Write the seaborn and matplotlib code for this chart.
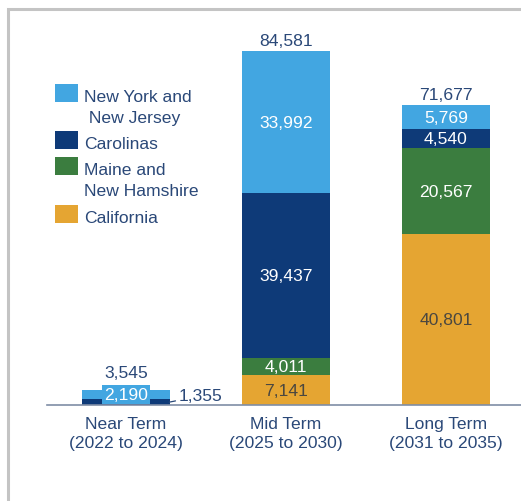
import matplotlib
matplotlib.use("Agg")
import matplotlib.pyplot as plt
from matplotlib.patches import Rectangle
import numpy as np
import pandas as pd
import seaborn as sns

# Cumulative capacity by term and region
terms = ["Near Term\n(2022 to 2024)", "Mid Term\n(2025 to 2030)", "Long Term\n(2031 to 2035)"]
california = [0, 7141, 40801]
maine_nh = [0, 4011, 20567]
carolinas = [1355, 39437, 4540]
ny_nj = [2190, 33992, 5769]

colors = {"California": "#E5A532", "Maine": "#3B7D3F", "Carolinas": "#0E3A78", "NY": "#42A6E1"}

TEXT = "#2A4878"
FONT = "Liberation Sans"
FS = 12.6

sns.set_theme(style="white")
plt.rcParams["font.family"] = [FONT, "DejaVu Sans"]

W, H = 521, 502
fig = plt.figure(figsize=(W / 100, H / 100), dpi=100)
fig.patch.set_facecolor("white")

def fx(px):
    return px / W

def fy(py):
    return 1 - py / H

ax_left, ax_bottom_px, ax_top_px = 47, 406, 21
ax = fig.add_axes([fx(ax_left), fy(ax_bottom_px), 1 - fx(ax_left), (ax_bottom_px - ax_top_px) / H])

df = pd.DataFrame({
    "term": terms,
    "California": california,
    "Maine": maine_nh,
    "Carolinas": carolinas,
    "NY": ny_nj,
})
stack = ["California", "Maine", "Carolinas", "NY"]
cum = df[stack].cumsum(axis=1)
df["total"] = cum["NY"]

# Stacked bars: draw cumulative heights from the top segment down
for key in reversed(stack):
    sns.barplot(x=df["term"], y=cum[key], color=colors[key], saturation=1,
                width=0.55, errorbar=None, linewidth=0, ax=ax)

ax.set_xlim(-0.494, 2.47)
ax.set_ylim(0, 92000)
ax.set_xlabel("")
ax.set_ylabel("")
ax.set_yticks([])
for s in ["top", "right", "left"]:
    ax.spines[s].set_visible(False)
ax.spines["bottom"].set_color("#7F8EA6")
ax.spines["bottom"].set_linewidth(1.2)
ax.tick_params(axis="x", length=0, pad=8, labelsize=FS, labelcolor=TEXT)
for lab in ax.get_xticklabels():
    lab.set_fontfamily(FONT)
    lab.set_linespacing(1.3)

label_color = {"California": "#4A4740", "Maine": "white", "Carolinas": "white", "NY": "white"}

# Segment labels; the thin near-term bar gets a boxed label and a callout
for i in range(len(terms)):
    base = 0
    thin = df.loc[i, "total"] < 5000
    for key in stack:
        v = df.loc[i, key]
        if v > 0:
            mid = base + v / 2
            if thin and key == "NY":
                ax.text(i, mid, f"{v:,}", ha="center", va="center", color="white",
                        fontsize=FS, bbox=dict(boxstyle="square,pad=0.12", fc=colors["NY"], ec="none"))
            elif thin and key == "Carolinas":
                ax.annotate(f"{v:,}", xy=(i + 0.27, mid), xytext=(i + 0.33, mid + 1500),
                            ha="left", va="center", color=TEXT, fontsize=FS,
                            arrowprops=dict(arrowstyle="-", color=TEXT, lw=0.9,
                                            shrinkA=0, shrinkB=0))
            else:
                ax.text(i, mid, f"{v:,}", ha="center", va="center",
                        color=label_color[key], fontsize=FS)
        base += v
    ax.annotate(f"{df.loc[i, 'total']:,}", xy=(i, df.loc[i, "total"]),
                xytext=(0, 7 if thin else 2.5),
                textcoords="offset points", ha="center", va="bottom", color=TEXT, fontsize=FS)

# Legend drawn as swatches with first-line aligned labels
legend_items = [
    ("NY", "New York and\n New Jersey", 102),
    ("Carolinas", "Carolinas", 149),
    ("Maine", "Maine and\nNew Hamshire", 175),
    ("California", "California", 223),
]
for key, text, base_y in legend_items:
    fig.patches.append(Rectangle((fx(55), fy(base_y + 1)), fx(23), 18 / H,
                                 transform=fig.transFigure, fc=colors[key], ec="none"))
    for j, line in enumerate(text.split("\n")):
        fig.text(fx(84), fy(base_y + 21 * j), line, ha="left", va="baseline",
                 color=TEXT, fontsize=FS)

# Outer gray frame
fig.patches.append(Rectangle((fx(7.5), -0.5), 2.0, fy(9.5) + 0.5, transform=fig.transFigure,
                             fill=False, ec="#C4C4C4", lw=2.2))

fig.savefig("out.png", dpi=100)
